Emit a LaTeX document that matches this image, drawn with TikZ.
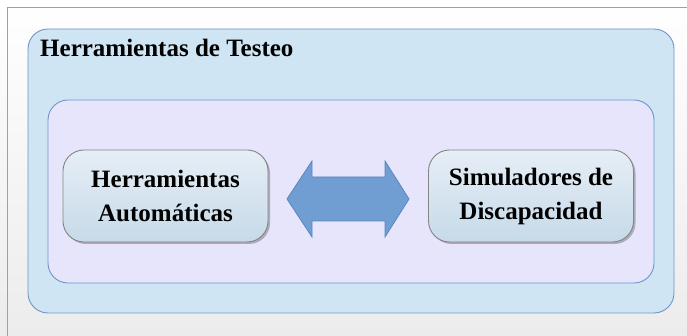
\documentclass[tikz,border=0pt]{standalone}
\usepackage{fontspec}
\setmainfont{Liberation Serif}
\usetikzlibrary{shadows}
\definecolor{bgtop}{HTML}{FFFFFF}
\definecolor{bgbot}{HTML}{ECECEC}
\definecolor{frameline}{HTML}{A0A0A0}
\definecolor{outerfill}{HTML}{CFE5F3}
\definecolor{innerfill}{HTML}{E6E5FB}
\definecolor{blueline}{HTML}{6F94C9}
\definecolor{boxtop}{HTML}{E6EEF6}
\definecolor{boxbot}{HTML}{C6DAE9}
\definecolor{boxline}{HTML}{858585}
\definecolor{arrowfill}{HTML}{709DD2}
\definecolor{arrowline}{HTML}{5A86C0}
\tikzset{
  container/.style={draw=blueline, line width=0.9pt, rounded corners=20pt},
  toolbox/.style={draw=boxline, line width=0.9pt, rounded corners=21pt,
    top color=boxtop, bottom color=boxbot, minimum width=205pt, minimum height=92pt,
    align=center, inner sep=0pt, font=\fontsize{25}{34}\selectfont\bfseries,
    drop shadow={shadow xshift=2pt, shadow yshift=-2pt, opacity=0.25, fill=black}},
  dblarrow/.style={draw=arrowline, line width=0.8pt, fill=arrowfill},
  titletext/.style={anchor=base west, inner sep=0pt, font=\fontsize{25}{28}\selectfont\bfseries}
}
\begin{document}
\begin{tikzpicture}[x=1pt,y=1pt]
\useasboundingbox (0,0) rectangle (687,336);
\shade[top color=bgtop, bottom color=bgbot] (0,0) rectangle (687,336);
\draw[frameline, line width=1pt] (7.5,0) -- (7.5,328) -- (687,328);
% outer container
\draw[container, fill=outerfill] (28,23) rectangle (674,307);
\node[titletext] (title) at (40,279) {Herramientas de Testeo};
% inner container
\draw[container, fill=innerfill] (48,53) rectangle (654,236);
% boxes
\node[toolbox] (auto) at (165.5,140) {Herramientas\\Automáticas};
\node[toolbox] (sim) at (531,140) {Simuladores de\\Discapacidad};
% double arrow
\coordinate (lt) at (287,137);
\coordinate (rt) at (409,137);
\draw[dblarrow] (lt) -- (312,175) -- (312,159) -- (385,159) -- (385,175) -- (rt)
  -- (385,99) -- (385,115) -- (312,115) -- (312,99) -- cycle;
\end{tikzpicture}
\end{document}
